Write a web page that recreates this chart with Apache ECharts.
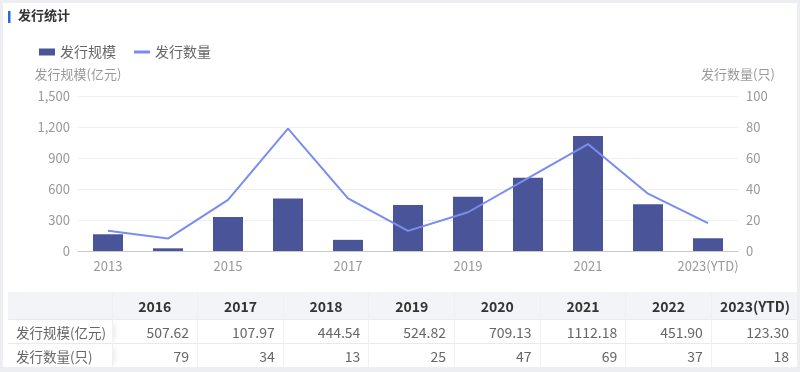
<!DOCTYPE html>
<html>
<head>
<meta charset="utf-8">
<script src="https://cdn.jsdelivr.net/npm/echarts@6/dist/echarts.min.js"></script>
<style>
  html, body { margin:0; padding:0; width:800px; height:372px; background:#eceef1; overflow:hidden; font-family:"Noto Sans CJK SC","Noto Sans",sans-serif; }
  #card { position:absolute; left:3px; top:3px; width:794px; height:364px; background:#fff; }
  #chart { position:absolute; left:0; top:0; width:800px; height:290px; }
  #tbl { position:absolute; left:8px; top:292px; width:789px; border-collapse:collapse; table-layout:fixed; font-size:14px; line-height:18px; }
  #tbl th { background:#f3f4f8; color:#333; font-weight:bold; height:27px; padding:0 8px; text-align:center; white-space:nowrap; }
  #tbl td { color:#666; height:23px; padding:0 8px; text-align:right; border-top:1px solid #e9e9ee; white-space:nowrap; }
  #tbl td.first, #tbl th.first { text-align:left; padding:0 2px 0 8px; font-size:13.5px; box-shadow: 6px 0 6px -4px rgba(0,0,0,0.12); }
  #tbl th + th, #tbl td + td { border-left:1px solid #f0f0f4; }
</style>
</head>
<body>
<div id="card"></div>
<div id="chart"></div>
<table id="tbl"></table>
<script>
const categories = ['2013','2014','2015','2016','2017','2018','2019','2020','2021','2022','2023(YTD)'];
const scaleValues = [162, 26, 329, 507.62, 107.97, 444.54, 524.82, 709.13, 1112.18, 451.90, 123.30];
const countValues = [13, 8, 33, 79, 34, 13, 25, 47, 69, 37, 18];
const tableYears = ['2016','2017','2018','2019','2020','2021','2022','2023(YTD)'];
const tableScale = ['507.62','107.97','444.54','524.82','709.13','1112.18','451.90','123.30'];
const tableCount = ['79','34','13','25','47','69','37','18'];
const rowNames = ['发行规模(亿元)','发行数量(只)'];

const FONT = '"Noto Sans CJK SC","Noto Sans",sans-serif';
const chart = echarts.init(document.getElementById('chart'));
chart.setOption({
  animation:false,
  textStyle:{ fontFamily:FONT },
  graphic:[
    { type:'rect', shape:{ x:8, y:11, width:2.5, height:12 }, style:{ fill:'#2b6ad8' } },
    { type:'text', left:18, top:9, style:{ text:'发行统计', fontSize:13, fontWeight:'bold', fill:'#333', fontFamily:FONT } }
  ],
  legend:[
    { left:34, top:40, itemWidth:16, itemHeight:7, icon:'rect',
      textStyle:{ fontSize:14, color:'#666', fontFamily:FONT },
      data:['发行规模'] },
    { left:129, top:40, itemWidth:16, itemHeight:3, icon:'rect',
      textStyle:{ fontSize:14, color:'#666', fontFamily:FONT },
      data:['发行数量'] }
  ],
  grid:{ left:78, right:62, top:96, bottom:39, containLabel:false },
  xAxis:{
    type:'category', data:categories,
    axisLine:{ lineStyle:{ color:'#c8c9cc' } },
    axisTick:{ show:false },
    axisLabel:{ interval:1, color:'#999', fontSize:13, margin:9, fontFamily:FONT }
  },
  yAxis:[
    { type:'value', name:'发行规模(亿元)', min:0, max:1500, interval:300,
      nameTextStyle:{ color:'#999', fontSize:13, fontFamily:FONT },
      axisLine:{ show:false }, axisTick:{ show:false },
      axisLabel:{ color:'#999', fontSize:13, margin:8, fontFamily:FONT },
      splitLine:{ lineStyle:{ color:'#eef0f3' } } },
    { type:'value', name:'发行数量(只)', min:0, max:100, interval:20, position:'right',
      nameTextStyle:{ color:'#999', fontSize:13, fontFamily:FONT },
      axisLine:{ show:false }, axisTick:{ show:false },
      axisLabel:{ color:'#999', fontSize:13, margin:8, fontFamily:FONT },
      splitLine:{ show:false } }
  ],
  series:[
    { name:'发行规模', type:'bar', data:scaleValues, barWidth:'50%', itemStyle:{ color:'#4a5599' } },
    { name:'发行数量', type:'line', yAxisIndex:1, data:countValues, symbol:'none',
      lineStyle:{ color:'#7b8cf0', width:2 }, itemStyle:{ color:'#7b8cf0' } }
  ]
});

// table
const tbl = document.getElementById('tbl');
let html = '<colgroup><col style="width:104px">' + tableYears.map(()=>'<col>').join('') + '</colgroup>';
html += '<tr><th class="first"></th>' + tableYears.map(y=>'<th>'+y+'</th>').join('') + '</tr>';
html += '<tr><td class="first">'+rowNames[0]+'</td>' + tableScale.map(v=>'<td>'+v+'</td>').join('') + '</tr>';
html += '<tr><td class="first">'+rowNames[1]+'</td>' + tableCount.map(v=>'<td>'+v+'</td>').join('') + '</tr>';
tbl.innerHTML = html;
</script>
</body>
</html>
